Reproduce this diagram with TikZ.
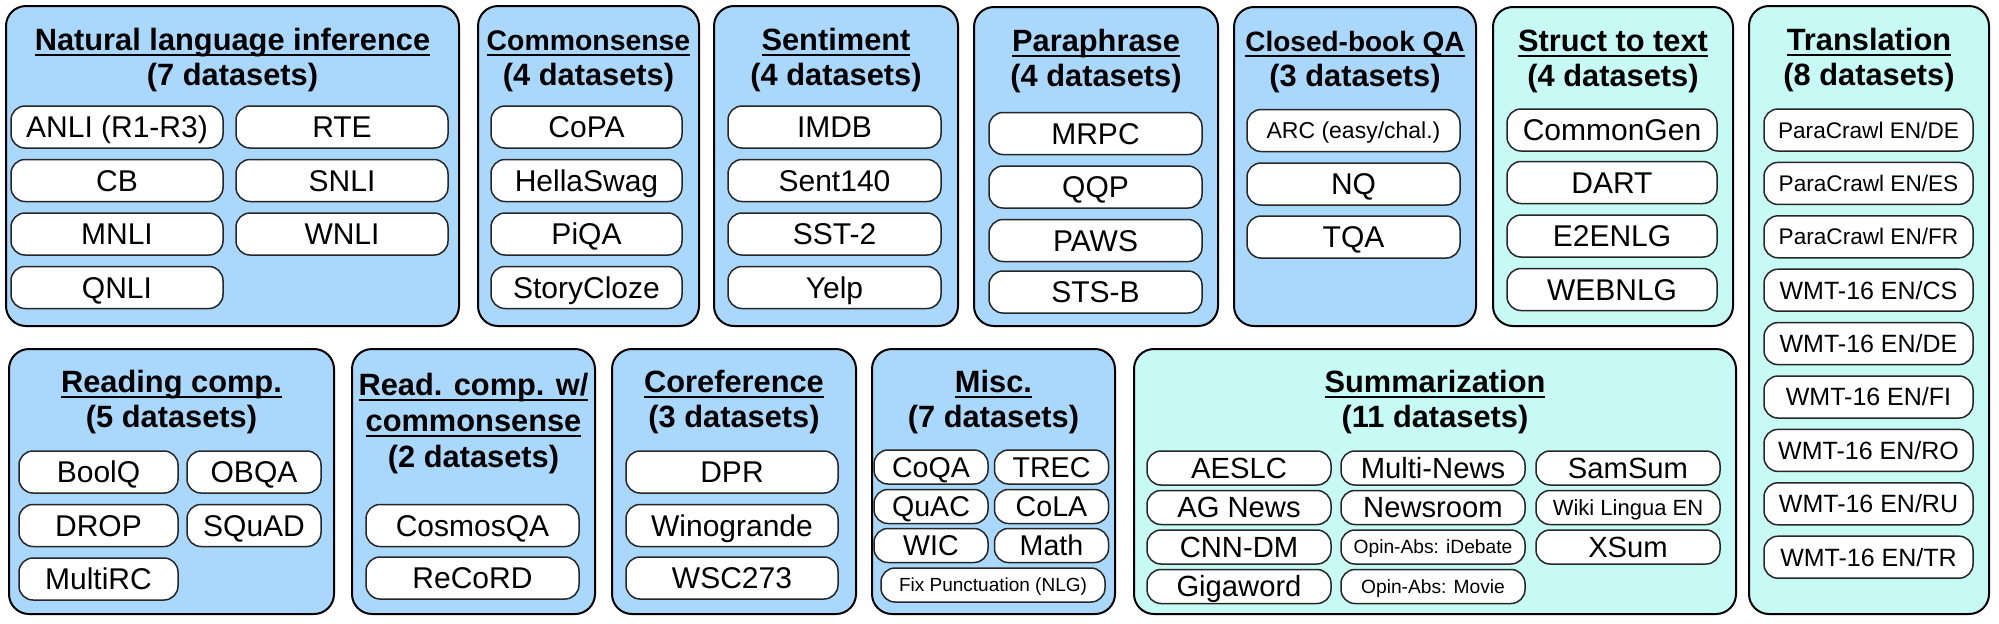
\documentclass[tikz,border=0pt]{standalone}
\usepackage{fontspec}
\setmainfont{Liberation Sans}
\usetikzlibrary{positioning}
\definecolor{taskblue}{HTML}{AAD8FC}
\definecolor{taskcyan}{HTML}{C8FAF5}
% underlined heading line
\newcommand{\hdline}[1]{\setbox0\hbox{#1}\rlap{\rule[-2.8pt]{\wd0}{1pt}}\box0}

\begin{document}
\begin{tikzpicture}[x=0.5pt, y=-0.5pt,
    group/.style={draw, line width=1pt, rounded corners=10pt, anchor=north west, inner sep=0pt},
    head/.style={anchor=base, font=\fontsize{15.4}{18}\selectfont\bfseries},
    fsz/.code={\pgfmathsetlengthmacro\capht{0.716*#1}\tikzset{font=\fontsize{#1}{#1}\selectfont, text height=\capht, text depth=0pt}},
    pill/.style={draw=black!85, line width=0.75pt, fill=white, rounded corners=7pt,
        minimum height=21pt, inner sep=0pt, fsz=15},
    spill/.style={pill, minimum height=17pt, fsz=14.3}]
    \useasboundingbox (0,0) rectangle (1999,623);

    % top row
    \node [group, fill=taskblue, minimum width=226.5pt, minimum height=160pt] (nli) at (5,5) {};
    \node [head] (nlih) at ([yshift=-22.5pt]nli.north) {\hdline{Natural language inference}};
    \node [head] (nlin) at ([yshift=-40pt]nli.north) {(7 datasets)};
    \foreach \i/\x/\y/\label in {1/117/127/ANLI (R1-R3), 2/342/127/RTE, 3/117/180.5/CB, 4/342/180.5/SNLI,
                                 5/117/234/MNLI, 6/342/234/WNLI, 7/117/287.5/QNLI}
        \node [pill, minimum width=106pt] (nli\i) at (\x,\y) {\label};

    \node [group, fill=taskblue, minimum width=110.5pt, minimum height=160pt] (cs) at (477,5) {};
    \node [head, fsz=14.2, font=\fontsize{14.2}{17}\selectfont\bfseries] (csh) at ([yshift=-22.5pt]cs.north) {\hdline{Commonsense}};
    \node [head] (csn) at ([yshift=-40pt]cs.north) {(4 datasets)};
    \foreach \i/\y/\label in {1/127/CoPA, 2/180.5/HellaSwag, 3/234/PiQA, 4/287.5/StoryCloze}
        \node [pill, minimum width=95.5pt] (cs\i) at (586.5,\y) {\label};

    \node [group, fill=taskblue, minimum width=122pt, minimum height=160pt] (sent) at (713,5) {};
    \node [head] (senth) at ([yshift=-22.5pt]sent.north) {\hdline{Sentiment}};
    \node [head] (sentn) at ([yshift=-40pt]sent.north) {(4 datasets)};
    \foreach \i/\y/\label in {1/127/IMDB, 2/180.5/Sent140, 3/234/SST-2, 4/287.5/Yelp}
        \node [pill, minimum width=106.5pt] (sent\i) at (834.5,\y) {\label};

    \node [group, fill=taskblue, minimum width=122pt, minimum height=159.5pt] (para) at (973,6) {};
    \node [head] (parah) at ([yshift=-22.5pt]para.north) {\hdline{Paraphrase}};
    \node [head] (paran) at ([yshift=-40pt]para.north) {(4 datasets)};
    \foreach \i/\y/\label in {1/133.5/MRPC, 2/187/QQP, 3/240.5/PAWS, 4/292/STS-B}
        \node [pill, minimum width=106.5pt] (para\i) at (1095.5,\y) {\label};

    \node [group, fill=taskblue, minimum width=121pt, minimum height=159.5pt] (cbqa) at (1233,6) {};
    \node [head, font=\fontsize{14}{17}\selectfont\bfseries] (cbqah) at ([yshift=-22.5pt]cbqa.north) {\hdline{Closed-book QA}};
    \node [head] (cbqan) at ([yshift=-40pt]cbqa.north) {(3 datasets)};
    \node [pill, minimum width=106.5pt, fsz=11.5] (cbqa1) at (1353.5,130.5) {ARC (easy/chal.)};
    \foreach \i/\y/\label in {2/184/NQ, 3/237/TQA}
        \node [pill, minimum width=106.5pt] (cbqa\i) at (1353.5,\y) {\label};

    \node [group, fill=taskcyan, minimum width=120pt, minimum height=159.5pt] (s2t) at (1492,6) {};
    \node [head] (s2th) at ([yshift=-22.5pt]s2t.north) {\hdline{Struct to text}};
    \node [head] (s2tn) at ([yshift=-40pt]s2t.north) {(4 datasets)};
    \foreach \i/\y/\label in {1/130/CommonGen, 2/182.5/DART, 3/236/E2ENLG, 4/289.5/WEBNLG}
        \node [pill, minimum width=105pt] (s2t\i) at (1612,\y) {\label};

    \node [group, fill=taskcyan, minimum width=120pt, minimum height=304pt] (trans) at (1748,5) {};
    \node [head] (transh) at ([yshift=-22.5pt]trans.north) {\hdline{Translation}};
    \node [head] (transn) at ([yshift=-40pt]trans.north) {(8 datasets)};
    \foreach \i/\label in {0/{ParaCrawl EN/DE}, 1/{ParaCrawl EN/ES}, 2/{ParaCrawl EN/FR}}
        \node [pill, minimum width=104.5pt, fsz=11.3] (trans\i) at (1868.5,130+\i*53.4) {\label};
    \foreach \i/\label in {3/{WMT-16 EN/CS}, 4/{WMT-16 EN/DE}, 5/{WMT-16 EN/FI},
                           6/{WMT-16 EN/RO}, 7/{WMT-16 EN/RU}, 8/{WMT-16 EN/TR}}
        \node [pill, minimum width=104.5pt, fsz=12.5] (trans\i) at (1868.5,130+\i*53.4) {\label};

    % bottom row
    \node [group, fill=taskblue, minimum width=162.5pt, minimum height=132.5pt] (rc) at (8,348) {};
    \node [head] (rch) at ([yshift=-22pt]rc.north) {\hdline{Reading comp.}};
    \node [head] (rcn) at ([yshift=-39.5pt]rc.north) {(5 datasets)};
    \foreach \i/\label in {1/BoolQ, 3/DROP, 5/MultiRC}
        \node [pill, minimum width=79.5pt] (rc\i) at (98.5,472+\i*26.75-26.75) {\label};
    \foreach \i/\label in {2/OBQA, 4/SQuAD}
        \node [pill, minimum width=67pt] (rc\i) at (254,472+\i*26.75-53.5) {\label};

    \node [group, fill=taskblue, minimum width=121.5pt, minimum height=132.5pt] (rcc) at (351,348) {};
    \node [head] (rcch) at ([yshift=-23.5pt]rcc.north) {\hdline{Read. comp. w/}};
    \node [head] (rccc) at ([yshift=-41.5pt]rcc.north) {\hdline{commonsense}};
    \node [head] (rccn) at ([yshift=-59.5pt]rcc.north) {(2 datasets)};
    \foreach \i/\y/\label in {1/525.5/CosmosQA, 2/578/ReCoRD}
        \node [pill, minimum width=106.5pt] (rcc\i) at (472.5,\y) {\label};

    \node [group, fill=taskblue, minimum width=122pt, minimum height=132.5pt] (coref) at (611,348) {};
    \node [head] (corefh) at ([yshift=-22pt]coref.north) {\hdline{Coreference}};
    \node [head] (corefn) at ([yshift=-39.5pt]coref.north) {(3 datasets)};
    \foreach \i/\y/\label in {1/472/DPR, 2/525.5/Winogrande, 3/578/WSC273}
        \node [pill, minimum width=106pt] (coref\i) at (732,\y) {\label};

    \node [group, fill=taskblue, minimum width=121.5pt, minimum height=132.5pt] (misc) at (871,348) {};
    \node [head] (misch) at ([yshift=-22pt]misc.north) {\hdline{Misc.}};
    \node [head] (miscn) at ([yshift=-39.5pt]misc.north) {(7 datasets)};
    \foreach \i/\x/\y/\label in {1/931/467/CoQA, 2/1051.5/467/TREC, 3/931/506.5/QuAC,
                                 4/1051.5/506.5/CoLA, 5/931/545.5/WIC, 6/1051.5/545.5/Math}
        \node [spill, minimum width=57pt] (misc\i) at (\x,\y) {\label};
    \node [spill, minimum width=112pt, fsz=9.5] (misc7) at (993,585) {Fix Punctuation (NLG)};

    \node [group, fill=taskcyan, minimum width=301pt, minimum height=132.5pt] (summ) at (1133,348) {};
    \node [head] (summh) at ([yshift=-22pt]summ.north) {\hdline{Summarization}};
    \node [head] (summn) at ([yshift=-39.5pt]summ.north) {(11 datasets)};
    \foreach \i/\y/\label in {1/468/AESLC, 2/507.5/AG News, 3/547/CNN-DM, 4/586.5/Gigaword}
        \node [spill, minimum width=92pt, fsz=14.6] (summa\i) at (1239,\y) {\label};
    \foreach \i/\y/\label in {1/468/Multi-News, 2/507.5/Newsroom}
        \node [spill, minimum width=92pt, fsz=14.6] (summb\i) at (1433,\y) {\label};
    \foreach \i/\y/\label in {3/547/Opin-Abs: iDebate, 4/586.5/Opin-Abs: Movie}
        \node [spill, minimum width=92pt, fsz=9.6] (summb\i) at (1433,\y) {\label};
    \node [spill, minimum width=92pt, fsz=14.6] (summc1) at (1628,468) {SamSum};
    \node [spill, minimum width=92pt, fsz=11] (summc2) at (1628,507.5) {Wiki Lingua EN};
    \node [spill, minimum width=92pt, fsz=14.6] (summc3) at (1628,547) {XSum};
\end{tikzpicture}
\end{document}
